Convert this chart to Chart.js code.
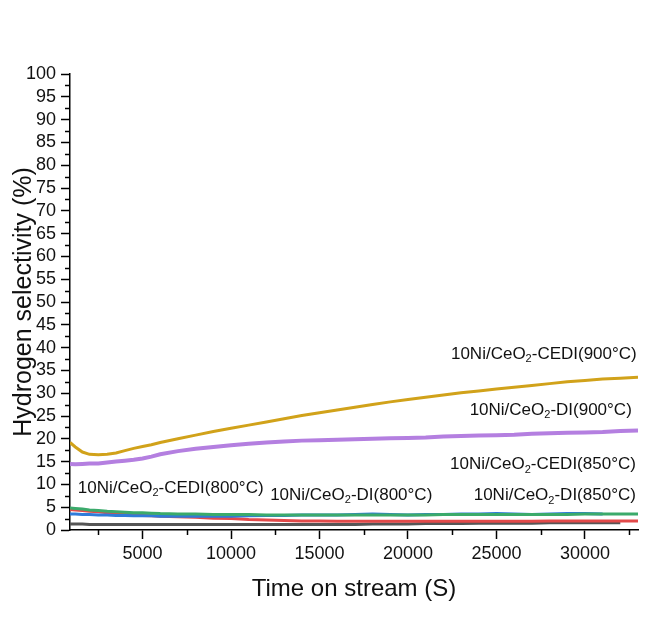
<!DOCTYPE html>
<html><head><meta charset="utf-8">
<script src="https://cdn.jsdelivr.net/npm/chart.js@4/dist/chart.umd.min.js"></script>
<style>html,body{margin:0;padding:0;background:#fff}</style>
</head><body>
<canvas id="c" width="665" height="638"></canvas>
<script>
// ---- data ----
const timeS = [900,1200,1600,2000,2500,3000,3500,4000,4500,5000,5500,6000,
  7000,8000,9000,10000,11000,12000,13000,14000,15000,16000,17000,18000,19000,20000,
  21000,22000,23000,24000,25000,26000,27000,28000,29000,30000,31000,32000,33000];
const cedi900 = [19.2,18.2,17.1,16.6,16.5,16.6,16.9,17.4,17.9,18.3,18.7,19.2,
  20.0,20.8,21.6,22.3,23.0,23.7,24.4,25.1,25.7,26.3,26.9,27.5,28.1,28.6,
  29.1,29.6,30.1,30.5,30.9,31.3,31.7,32.1,32.5,32.8,33.1,33.3,33.5];
const di900 = [14.5,14.4,14.5,14.6,14.6,14.8,15.0,15.2,15.4,15.7,16.1,16.6,
  17.3,17.8,18.2,18.6,18.9,19.2,19.4,19.6,19.7,19.8,19.9,20.0,20.1,20.2,
  20.3,20.5,20.6,20.7,20.8,20.9,21.1,21.2,21.3,21.4,21.5,21.7,21.8];
const cedi850 = [4.8,4.7,4.6,4.4,4.3,4.1,4.0,3.9,3.8,3.8,3.7,3.6,
  3.5,3.5,3.4,3.4,3.4,3.3,3.3,3.3,3.3,3.3,3.3,3.3,3.3,3.3,
  3.3,3.4,3.4,3.4,3.4,3.4,3.4,3.4,3.4,3.5,3.5,3.5,3.5];
const cedi800 = [3.5,3.5,3.4,3.4,3.3,3.3,3.2,3.2,3.1,3.1,3.1,3.0,
  3.0,3.0,3.0,3.0,3.1,3.2,3.2,3.3,3.3,3.3,3.4,3.5,3.4,3.3,
  3.4,3.4,3.5,3.5,3.6,3.5,3.4,3.5,3.6,3.6,3.5,null,null];
const di850 = [4.5,4.4,4.3,4.1,4.0,3.8,3.6,3.5,3.3,3.2,3.1,3.0,
  2.9,2.8,2.6,2.5,2.3,2.2,2.1,2.0,2.0,1.9,1.9,1.9,1.9,1.9,
  1.9,1.9,1.9,1.9,1.9,1.9,1.9,2.0,2.0,2.0,2.0,2.0,2.0];
const di800 = [1.3,1.3,1.3,1.2,1.2,1.2,1.2,1.2,1.2,1.2,1.2,1.2,
  1.2,1.2,1.2,1.2,1.2,1.2,1.2,1.2,1.2,1.2,1.2,1.3,1.3,1.3,
  1.4,1.4,1.4,1.5,1.5,1.5,1.5,1.6,1.6,1.6,1.6,1.6,null];

const xMajorTicks = [5000,10000,15000,20000,25000,30000];
const xMinorTicks = [2500,7500,12500,17500,22500,27500,32500];
const yMinorTicks = [2.5,7.5,12.5,17.5,22.5,27.5,32.5,37.5,42.5,47.5,52.5,57.5,62.5,67.5,72.5,77.5,82.5,87.5,92.5,97.5];

// labels: [pre, sub, post, xValue, yValue, align]
const curveLabels = [
  ['10Ni/CeO','2','-CEDI(900°C)', 32930, 38.6, 'right'],
  ['10Ni/CeO','2','-DI(900°C)',   32650, 26.3, 'right'],
  ['10Ni/CeO','2','-CEDI(850°C)', 32880, 14.3, 'right'],
  ['10Ni/CeO','2','-DI(850°C)',   32880, 7.5,  'right'],
  ['10Ni/CeO','2','-CEDI(800°C)', 1340,  9.2,  'left'],
  ['10Ni/CeO','2','-DI(800°C)',   12210, 7.7,  'left']
];

const FONT = '"Liberation Sans", Arial, sans-serif';

const ds = (data, color, width, order) => ({
  data: timeS.map((t,i)=>({x:t, y:data[i]})),
  borderColor: color, backgroundColor: color, borderWidth: width,
  pointRadius: 0, tension: 0, order: order, spanGaps: false
});

const extras = {
  id: 'extras',
  afterDraw(chart) {
    const {ctx, chartArea, scales:{x, y}} = chart;
    ctx.save();
    ctx.strokeStyle = '#000';
    ctx.lineWidth = 1.5;
    for (const v of xMinorTicks) {
      const px = Math.round(x.getPixelForValue(v)) + 0.5;
      ctx.beginPath(); ctx.moveTo(px, chartArea.bottom); ctx.lineTo(px, chartArea.bottom + 5); ctx.stroke();
    }
    for (const v of yMinorTicks) {
      const py = Math.round(y.getPixelForValue(v)) + 0.5;
      ctx.beginPath(); ctx.moveTo(chartArea.left, py); ctx.lineTo(chartArea.left - 5, py); ctx.stroke();
    }
    ctx.fillStyle = '#111';
    ctx.textBaseline = 'middle';
    ctx.textAlign = 'left';
    const mainF = '17px ' + FONT, subF = '11px ' + FONT;
    for (const [pre, sub, post, xv, yv, align] of curveLabels) {
      ctx.font = mainF; const w1 = ctx.measureText(pre).width, w3 = ctx.measureText(post).width;
      ctx.font = subF; const w2 = ctx.measureText(sub).width;
      const total = w1 + w2 + w3;
      let px = x.getPixelForValue(xv);
      const py = y.getPixelForValue(yv);
      if (align === 'right') px -= total;
      ctx.font = mainF; ctx.fillText(pre, px, py);
      ctx.font = subF; ctx.fillText(sub, px + w1, py + 5);
      ctx.font = mainF; ctx.fillText(post, px + w1 + w2, py);
    }
    ctx.restore();
  }
};

new Chart(document.getElementById('c'), {
  type: 'line',
  data: { datasets: [
    ds(cedi900, '#D1A21A', 3, 1),
    ds(di900,   '#B47FE0', 4, 2),
    ds(cedi850, '#3BAA6B', 3, 3),
    ds(cedi800, '#2F7BD9', 3, 4),
    ds(di850,   '#E24A4A', 3, 5),
    ds(di800,   '#555555', 3, 6)
  ]},
  options: {
    responsive: false, animation: false,
    layout: { padding: { left: 0, top: 74, right: 27, bottom: 30 } },
    plugins: { legend: { display: false }, tooltip: { enabled: false } },
    scales: {
      x: {
        type: 'linear', min: 900, max: 33000,
        afterBuildTicks: s => { s.ticks = xMajorTicks.map(v => ({value: v})); },
        afterFit: s => { s.height = 78; },
        grid: { display: true, drawOnChartArea: false, drawTicks: true, tickLength: 9, tickWidth: 1.5, tickColor: '#000' },
        border: { display: true, color: '#000', width: 1.5 },
        ticks: { color: '#111', font: { family: FONT, size: 18 }, padding: 4, maxRotation: 0, autoSkip: false,
                 callback: v => String(v) },
        title: { display: true, text: 'Time on stream (S)', color: '#111', font: { family: FONT, size: 24 }, padding: { top: 0, bottom: 4 } }
      },
      y: {
        type: 'linear', min: 0, max: 100,
        afterFit: s => { s.width = 70; },
        grid: { display: true, drawOnChartArea: false, drawTicks: true, tickLength: 9, tickWidth: 1.5, tickColor: '#000' },
        border: { display: true, color: '#000', width: 1.5 },
        ticks: { stepSize: 5, color: '#111', font: { family: FONT, size: 18 }, padding: 5, autoSkip: false,
                 callback: v => String(v) },
        title: { display: true, text: 'Hydrogen selectivity (%)', color: '#111', font: { family: FONT, size: 25 }, padding: { top: 9, bottom: 0 } }
      }
    }
  },
  plugins: [extras]
});
</script>
</body></html>
